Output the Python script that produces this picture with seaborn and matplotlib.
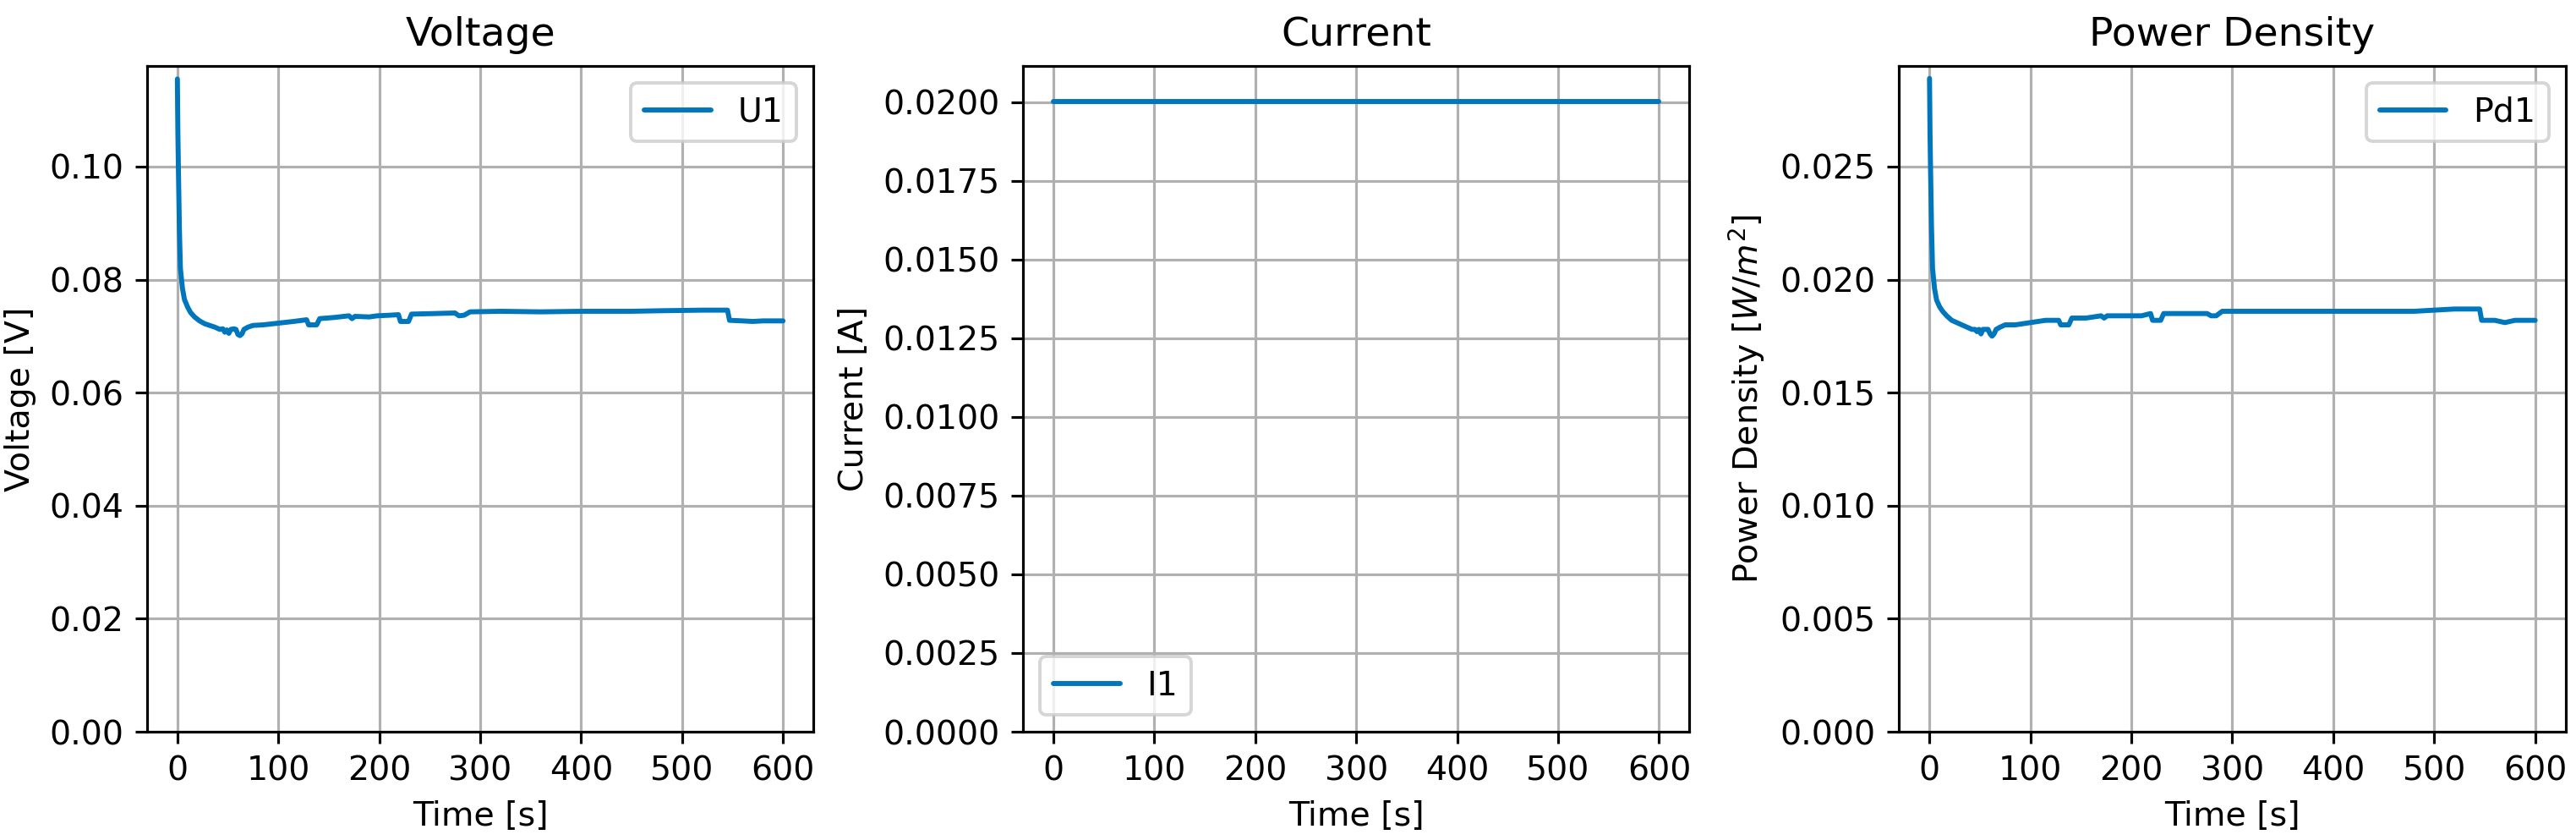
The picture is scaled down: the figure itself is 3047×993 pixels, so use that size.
import seaborn as sns
import matplotlib
matplotlib.use("Agg")
import matplotlib.pyplot as plt


# -------------------------------------------------
# DATA
# -------------------------------------------------
time_u = [0, 0.5, 1, 2, 3, 5, 7, 10, 13, 17, 22, 27, 32, 37, 42, 45, 47, 49,
          51, 53, 56, 58, 60, 62, 64, 66, 70, 75, 85, 100, 115, 128, 130, 138,
          141, 155, 170, 173, 176, 190, 198, 210, 219, 221, 229, 232, 255, 275,
          279, 284, 290, 320, 360, 400, 450, 480, 520, 545, 547, 560, 570, 580,
          600]
voltage_u1 = [0.1155, 0.1060, 0.1000, 0.0890, 0.0820, 0.0785, 0.0765, 0.0752,
              0.0742, 0.0734, 0.0727, 0.0722, 0.0719, 0.0716, 0.0712, 0.0713,
              0.0707, 0.0711, 0.0705, 0.0712, 0.0713, 0.0712, 0.0703, 0.0701,
              0.0704, 0.0712, 0.0716, 0.0719, 0.0720, 0.0723, 0.0726, 0.0729,
              0.0720, 0.0720, 0.0731, 0.0733, 0.0736, 0.0731, 0.0735, 0.0734,
              0.0736, 0.0737, 0.0738, 0.0726, 0.0726, 0.0739, 0.0740, 0.0741,
              0.0736, 0.0737, 0.0743, 0.0744, 0.0743, 0.0744, 0.0744, 0.0745,
              0.0746, 0.0746, 0.0728, 0.0727, 0.0726, 0.0727, 0.0727]

time_i = [0, 100, 200, 300, 400, 500, 600]
current_i1 = [0.02003, 0.02003, 0.02003, 0.02003, 0.02003, 0.02003, 0.02003]

time_pd = time_u
power_pd1 = [0.0289, 0.0265, 0.0250, 0.0223, 0.0205, 0.0196, 0.0191, 0.0188,
             0.0186, 0.0184, 0.0182, 0.0181, 0.0180, 0.0179, 0.0178, 0.0178,
             0.0177, 0.0178, 0.0176, 0.0178, 0.0178, 0.0178, 0.0176, 0.0175,
             0.0176, 0.0178, 0.0179, 0.0180, 0.0180, 0.0181, 0.0182, 0.0182,
             0.0180, 0.0180, 0.0183, 0.0183, 0.0184, 0.0183, 0.0184, 0.0184,
             0.0184, 0.0184, 0.0185, 0.0182, 0.0182, 0.0185, 0.0185, 0.0185,
             0.0184, 0.0184, 0.0186, 0.0186, 0.0186, 0.0186, 0.0186, 0.0186,
             0.0187, 0.0187, 0.0182, 0.0182, 0.0181, 0.0182, 0.0182]

LINE_COLOR = "#0076bc"


# -------------------------------------------------
# STYLE
# -------------------------------------------------
sns.set_style("ticks", {
    "axes.grid": True,
    "grid.color": "#b0b0b0",
    "axes.edgecolor": "black",
    "axes.labelcolor": "black",
    "text.color": "black",
    "xtick.color": "black",
    "ytick.color": "black",
})
plt.rcParams["font.family"] = ["DejaVu Sans"]
plt.rcParams["font.size"] = 10
plt.rcParams["axes.titlesize"] = 12
plt.rcParams["axes.labelsize"] = 10
plt.rcParams["xtick.labelsize"] = 10
plt.rcParams["ytick.labelsize"] = 10
plt.rcParams["legend.fontsize"] = 10
plt.rcParams["axes.linewidth"] = 0.8
plt.rcParams["grid.linewidth"] = 0.8
plt.rcParams["xtick.major.size"] = 3.5
plt.rcParams["ytick.major.size"] = 3.5
plt.rcParams["xtick.major.width"] = 0.8
plt.rcParams["ytick.major.width"] = 0.8


# -------------------------------------------------
# PLOT
# -------------------------------------------------
DPI = 284
fig, axes = plt.subplots(1, 3, figsize=(3047 / DPI, 993 / DPI), dpi=DPI)
fig.subplots_adjust(left=0.0571, right=0.9959, bottom=0.1289, top=0.9214,
                    wspace=0.315)

panels = [
    (axes[0], time_u, voltage_u1, "U1", "Voltage", "Voltage [V]", "upper right"),
    (axes[1], time_i, current_i1, "I1", "Current", "Current [A]", "lower left"),
    (axes[2], time_pd, power_pd1, "Pd1", "Power Density",
     "Power Density [$W/m^2$]", "upper right"),
]

for ax, x, y, label, title, ylabel, loc in panels:
    sns.lineplot(x=x, y=y, ax=ax, label=label, color=LINE_COLOR,
                 linewidth=1.5)
    ax.set_title(title)
    ax.set_xlabel("Time [s]")
    ax.set_ylabel(ylabel)
    ax.set_xticks([0, 100, 200, 300, 400, 500, 600])
    ax.set_xlim(-30, 630)
    for side in ["top", "right", "left", "bottom"]:
        ax.spines[side].set_visible(True)
    ax.grid(True, color="#b0b0b0", linewidth=0.8)
    ax.legend(loc=loc, framealpha=0.8, edgecolor="#cccccc")

axes[0].set_ylim(0, 0.1178)
axes[0].set_yticks([0.00, 0.02, 0.04, 0.06, 0.08, 0.10])
axes[1].set_ylim(0, 0.02115)
axes[1].set_yticks([0.0, 0.0025, 0.005, 0.0075, 0.01, 0.0125, 0.015,
                    0.0175, 0.02])
axes[2].set_ylim(0, 0.02945)
axes[2].set_yticks([0.0, 0.005, 0.01, 0.015, 0.02, 0.025])

plt.savefig("out.png", dpi=DPI)
